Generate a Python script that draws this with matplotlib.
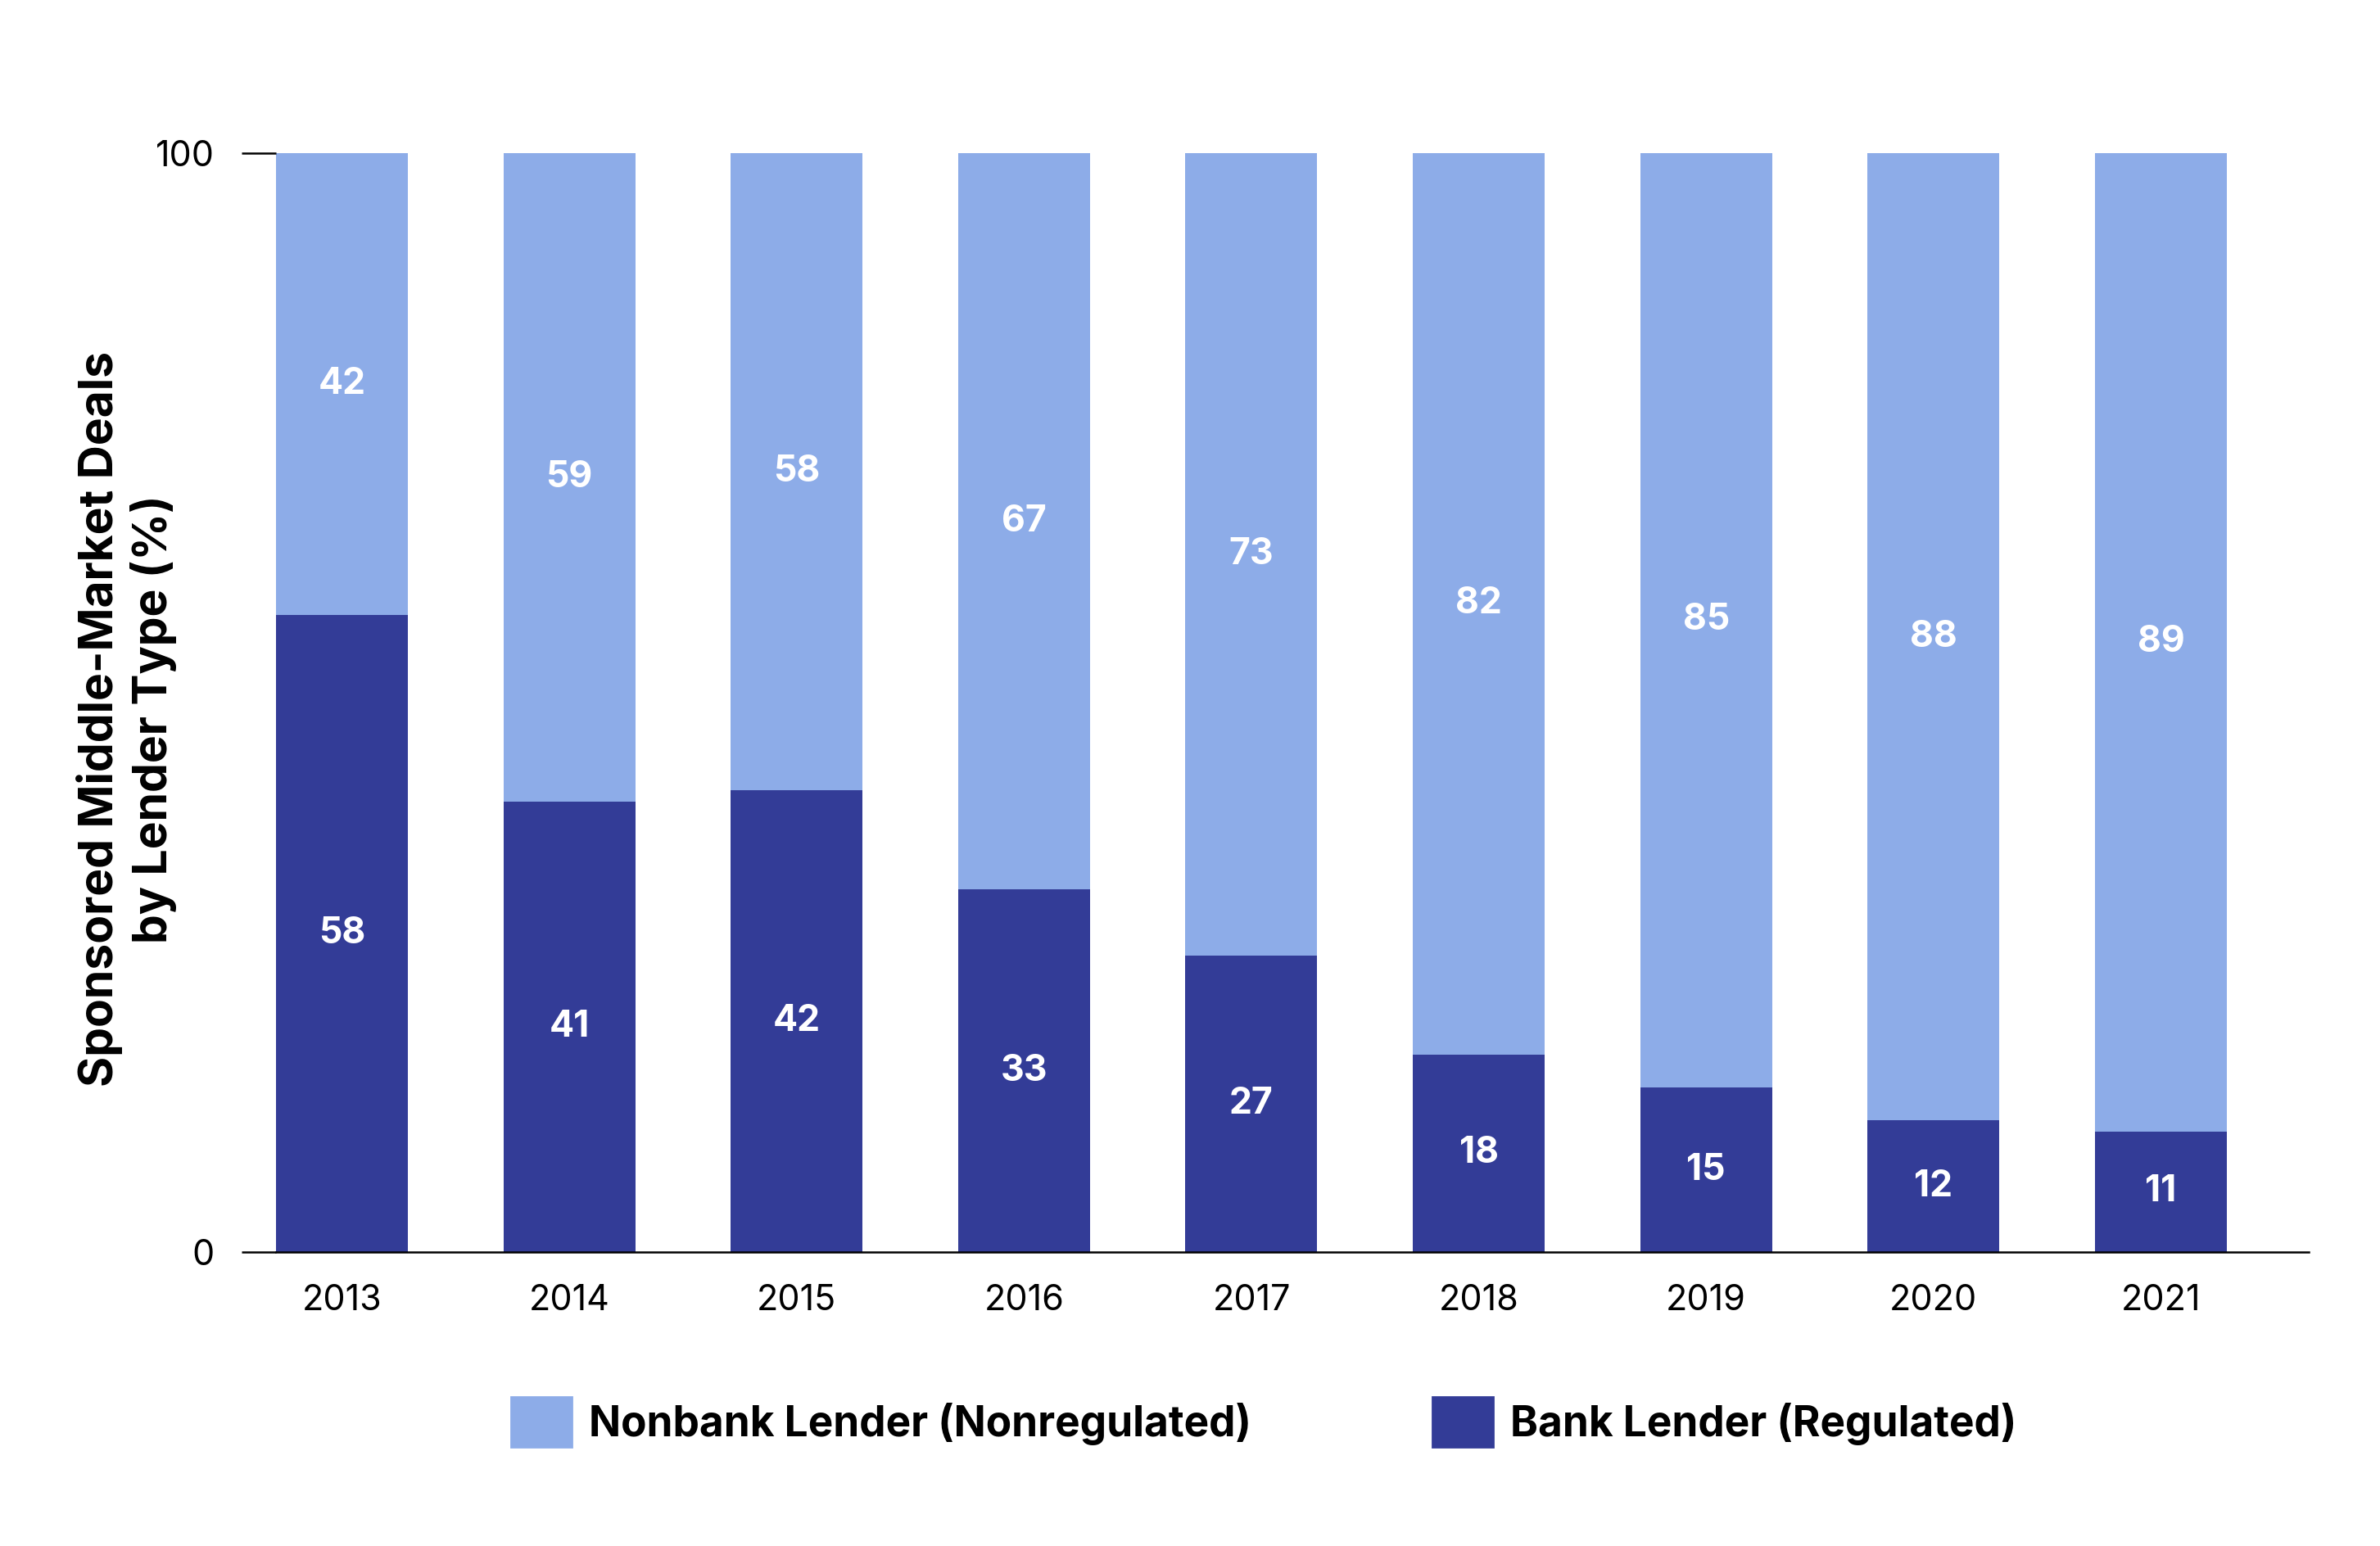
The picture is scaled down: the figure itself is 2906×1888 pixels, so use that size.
import numpy as np
import matplotlib.pyplot as plt
from matplotlib.patches import Patch

plt.rcParams['font.family'] = ['Inter', 'DejaVu Sans']

years = ['2013', '2014', '2015', '2016', '2017', '2018', '2019', '2020', '2021']
bank = [58, 41, 42, 33, 27, 18, 15, 12, 11]
nonbank = [42, 59, 58, 67, 73, 82, 85, 88, 89]

COLOR_BANK = '#333C97'
COLOR_NONBANK = '#8DACE8'


def main():
    fig = plt.figure(figsize=(14.53, 9.44), dpi=200)
    ax = fig.add_axes([0.116, 0.190, 0.854, 0.711])

    x = np.arange(len(years))
    b1 = ax.bar(x, bank, width=0.58, color=COLOR_BANK)
    b2 = ax.bar(x, nonbank, width=0.58, bottom=bank, color=COLOR_NONBANK)

    # etiquetas blancas dentro de cada tramo
    ax.bar_label(b1, label_type='center', color='white', fontsize=16, fontweight='bold')
    ax.bar_label(b2, label_type='center', color='white', fontsize=16, fontweight='bold')

    ax.set_xlim(-0.29, 8.65)
    ax.set_ylim(0, 100)
    ax.set_yticks([0, 100])
    ax.set_xticks(x)
    ax.set_xticklabels(years)

    for s in ['top', 'right', 'left']:
        ax.spines[s].set_visible(False)
    ax.spines['bottom'].set_linewidth(0.9)

    ax.tick_params(axis='y', length=15, width=0.9, pad=12, labelsize=15.5)
    ax.tick_params(axis='x', length=0, pad=14, labelsize=15.5)

    fig.text(0.053, 0.535, 'Sponsored Middle-Market Deals\nby Lender Type (%)',
             rotation=90, ha='center', va='center', multialignment='center',
             fontsize=20.5, fontweight='bold', linespacing=1.2)

    handles = [Patch(color=COLOR_NONBANK, label='Nonbank Lender (Nonregulated)'),
               Patch(color=COLOR_BANK, label='Bank Lender (Regulated)')]
    fig.legend(handles=handles, loc='center', bbox_to_anchor=(0.531, 0.080),
               ncol=2, frameon=False, prop={'size': 18.5, 'weight': 'bold'},
               handlelength=1.45, handleheight=1.45, handletextpad=0.4,
               columnspacing=4.3)

    fig.savefig('out.png', dpi=200)


if __name__ == '__main__':
    main()
